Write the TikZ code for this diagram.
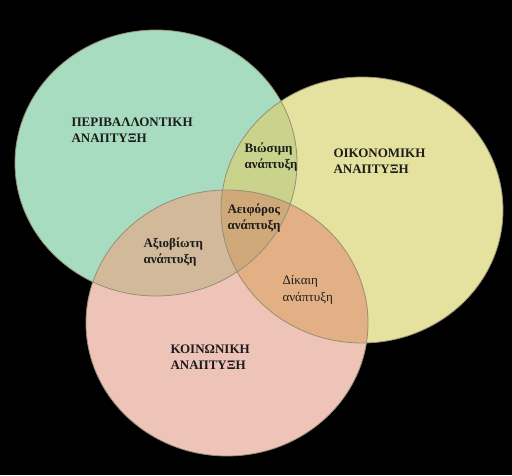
\documentclass[tikz,border=0pt]{standalone}
\usepackage{fontspec}
\setmainfont{Liberation Serif}
\usepackage{tikz}

\definecolor{envgreen}{HTML}{A8DCC0}
\definecolor{ecoyellow}{HTML}{E5E19E}
\definecolor{socpink}{HTML}{EFC4B8}
\definecolor{gyolive}{HTML}{C9D38C}
\definecolor{gptan}{HTML}{D1B99A}
\definecolor{yporange}{HTML}{E2B084}
\definecolor{allbrown}{HTML}{CFA97A}
\definecolor{rimgray}{HTML}{968F74}
\definecolor{inkdark}{HTML}{1C1C1C}

\begin{document}
\begin{tikzpicture}[x=1pt,y=1pt,
    caplbl/.style={anchor=west, align=left, text=inkdark, font=\fontsize{13}{16.5}\selectfont\bfseries},
    lbl/.style={anchor=west, align=left, text=inkdark, font=\fontsize{13}{16.5}\selectfont\bfseries},
    lightlbl/.style={anchor=west, align=left, text=inkdark, font=\fontsize{13}{16.5}\selectfont}]
  \fill[black] (0,0) rectangle (512,475);
  \useasboundingbox (0,0) rectangle (512,475);

  % the three sets
  \def\envset{(156,312) ellipse [x radius=141, y radius=133]}
  \def\ecoset{(362,265) ellipse [x radius=141, y radius=133]}
  \def\socset{(227,152) ellipse [x radius=141, y radius=133]}

  \fill[envgreen] \envset;
  \fill[ecoyellow] \ecoset;
  \fill[socpink] \socset;

  % overlaps
  \begin{scope}
    \clip \envset;
    \fill[gyolive] \ecoset;
    \fill[gptan] \socset;
  \end{scope}
  \begin{scope}
    \clip \ecoset;
    \fill[yporange] \socset;
  \end{scope}
  \begin{scope}
    \clip \envset;
    \clip \ecoset;
    \fill[allbrown] \socset;
  \end{scope}

  \draw[rimgray, line width=0.8pt] \envset;
  \draw[rimgray, line width=0.8pt] \ecoset;
  \draw[rimgray, line width=0.8pt] \socset;

  % labels
  \node[caplbl] (env) at (68,345) {ΠΕΡΙΒΑΛΛΟΝΤΙΚΗ\\ΑΝΑΠΤΥΞΗ};
  \node[caplbl] (eco) at (330,314) {ΟΙΚΟΝΟΜΙΚΗ\\ΑΝΑΠΤΥΞΗ};
  \node[caplbl] (soc) at (167,118) {ΚΟΙΝΩΝΙΚΗ\\ΑΝΑΠΤΥΞΗ};

  \node[lbl] (viable) at (241,318) {Βιώσιμη\\ανάπτυξη};
  \node[lbl] (sustain) at (224,257) {Αειφόρος\\ανάπτυξη};
  \node[lbl] (bearable) at (140,223) {Αξιοβίωτη\\ανάπτυξη};
  \node[lightlbl] (fair) at (279,185) {Δίκαιη\\ανάπτυξη};
\end{tikzpicture}
\end{document}
